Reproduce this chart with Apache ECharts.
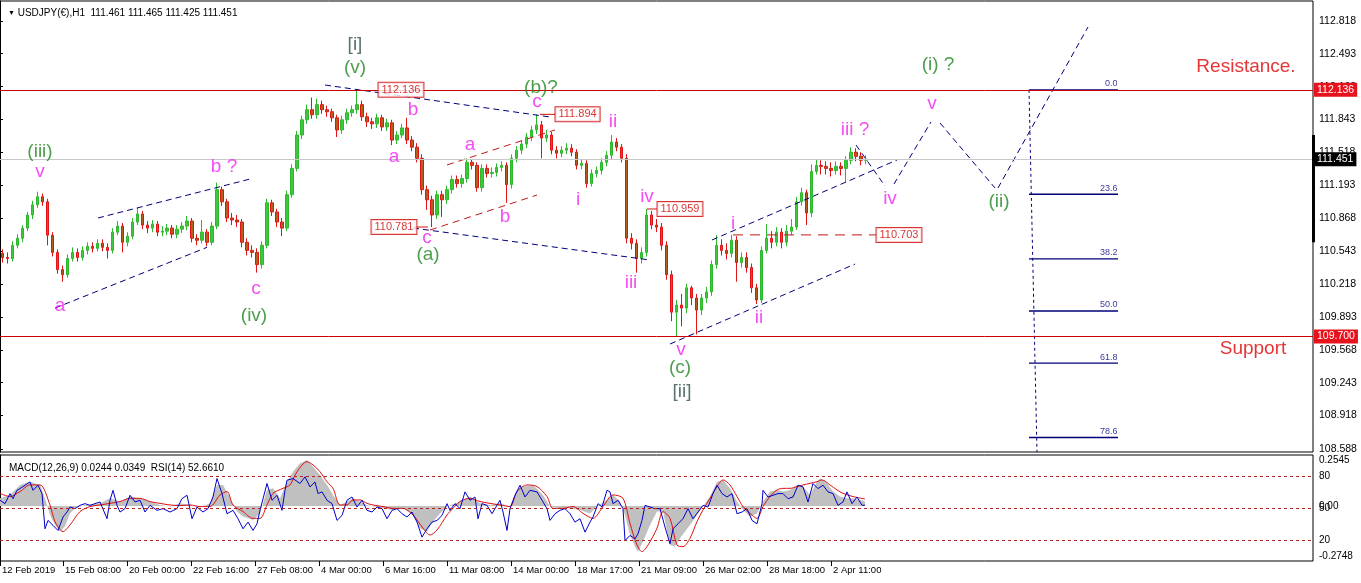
<!DOCTYPE html>
<html><head><meta charset="utf-8">
<script src="https://cdn.jsdelivr.net/npm/echarts@6/dist/echarts.min.js"></script>
<style>html,body{margin:0;padding:0;background:#fff;}#c{width:1361px;height:583px;}</style>
</head><body><div id="c"></div>
<script>
// ---------- DATA ----------
// each drawn candle aggregates 5 hourly bars; open = previous close
const firstOpen = 110.52;
const closes = [110.48,110.47,110.60,110.67,110.77,110.90,111.00,111.08,111.03,110.70,
 110.53,110.36,110.31,110.47,110.53,110.48,110.55,110.59,110.57,110.62,
 110.58,110.55,110.73,110.79,110.63,110.69,110.83,110.91,110.80,110.77,
 110.81,110.73,110.74,110.77,110.71,110.76,110.79,110.84,110.67,110.65,
 110.73,110.63,110.79,111.15,111.03,110.87,110.85,110.83,110.63,110.55,
 110.53,110.41,110.60,111.02,110.93,110.83,110.77,111.10,111.36,111.69,
 111.84,111.94,111.89,111.99,111.94,111.92,111.86,111.74,111.84,111.91,
 111.94,111.99,111.87,111.82,111.80,111.86,111.77,111.81,111.64,111.69,
 111.76,111.64,111.57,111.46,111.15,111.05,110.90,111.10,111.05,111.15,
 111.25,111.21,111.26,111.42,111.39,111.17,111.36,111.31,111.32,111.37,
 111.39,111.20,111.46,111.54,111.60,111.67,111.74,111.79,111.66,111.69,
 111.54,111.51,111.54,111.56,111.52,111.39,111.41,111.21,111.31,111.34,
 111.42,111.49,111.62,111.57,111.46,110.67,110.62,110.47,110.53,110.90,
 110.80,110.78,110.60,110.31,109.94,110.01,109.98,110.18,110.08,109.96,
 110.08,110.14,110.41,110.60,110.55,110.52,110.65,110.43,110.48,110.38,
 110.18,110.06,110.55,110.67,110.63,110.73,110.63,110.74,110.78,111.03,
 111.12,110.92,111.33,111.39,111.38,111.36,111.34,111.38,111.36,111.44,
 111.52,111.48,111.44,111.451];
const highs = [110.56,110.53,110.64,110.71,110.80,110.93,111.04,111.13,111.11,111.06,
 110.73,110.56,110.40,110.51,110.58,110.57,110.59,110.63,110.63,110.66,
 110.66,110.62,110.77,110.84,110.82,110.73,110.87,110.97,110.94,110.84,
 110.85,110.84,110.79,110.81,110.80,110.80,110.83,110.89,110.87,110.71,
 110.85,110.76,110.83,111.22,111.18,111.06,110.92,110.90,110.86,110.67,
 110.60,110.57,110.64,111.06,111.05,110.96,110.87,111.14,111.40,111.73,
 111.88,111.99,112.06,112.05,112.03,111.98,111.95,111.89,111.88,111.95,
 111.98,112.136,112.03,111.91,111.86,111.90,111.89,111.85,111.84,111.73,
 111.80,111.86,111.68,111.61,111.50,111.19,111.09,111.14,111.14,111.19,
 111.29,111.29,111.30,111.46,111.45,111.42,111.40,111.40,111.37,111.41,
 111.43,111.42,111.50,111.58,111.64,111.71,111.78,111.894,111.83,111.74,
 111.72,111.58,111.58,111.61,111.60,111.55,111.45,111.44,111.35,111.38,
 111.46,111.53,111.69,111.66,111.60,111.50,110.72,110.66,110.58,110.959,
 110.94,110.86,110.82,110.64,110.35,110.06,110.12,110.22,110.20,110.12,
 110.12,110.19,110.45,110.70,110.66,110.62,110.703,110.69,110.53,110.53,
 110.42,110.22,110.59,110.81,110.74,110.78,110.77,110.80,110.86,111.08,
 111.17,111.15,111.40,111.45,111.44,111.43,111.42,111.43,111.42,111.48,
 111.57,111.56,111.52,111.49];
const lows = [110.43,110.42,110.44,110.57,110.63,110.74,110.86,110.97,110.99,110.60,
 110.49,110.32,110.24,110.28,110.44,110.44,110.45,110.51,110.53,110.54,
 110.54,110.47,110.52,110.70,110.53,110.59,110.66,110.80,110.76,110.72,
 110.73,110.69,110.69,110.70,110.67,110.67,110.72,110.75,110.63,110.60,
 110.62,110.59,110.60,110.76,110.99,110.83,110.80,110.78,110.58,110.50,
 110.48,110.33,110.37,110.57,110.89,110.78,110.69,110.74,111.07,111.33,
 111.65,111.80,111.85,111.85,111.90,111.87,111.82,111.67,111.70,111.80,
 111.87,111.90,111.83,111.77,111.75,111.76,111.73,111.73,111.59,111.60,
 111.66,111.60,111.53,111.42,111.10,110.95,110.781,110.86,110.88,111.01,
 111.11,111.17,111.17,111.22,111.35,111.13,111.13,111.27,111.27,111.28,
 111.33,111.02,111.16,111.42,111.50,111.56,111.63,111.70,111.46,111.62,
 111.50,111.46,111.47,111.50,111.48,111.35,111.35,111.17,111.18,111.27,
 111.30,111.38,111.45,111.53,111.42,110.62,110.56,110.33,110.42,110.49,
 110.76,110.73,110.55,110.26,109.85,109.70,109.80,109.93,110.01,109.72,
 109.91,110.03,110.10,110.37,110.50,110.46,110.48,110.24,110.38,110.33,
 110.13,110.02,110.03,110.52,110.57,110.59,110.57,110.59,110.70,110.75,
 110.99,110.80,110.88,111.30,111.30,111.30,111.28,111.30,111.29,111.22,
 111.40,111.43,111.39,111.40];

// indicator sub-window: [hour index, value]
const rsi = [[0,57.3],[5,54.1],[10,63.6],[13,58.8],[17,66.7],[20,68.3],[25,71.5],[30,74.6],[33,66.7],[38,71.5],[42,63.6],[45,30.4],[48,38.3],[53,33.6],[58,28.8],[63,41.5],[67,46.2],[70,50.9],[75,49.4],[80,52.5],[85,54.1],[90,52.5],[95,54.1],[100,55.7],[107,39.9],[110,57.3],[113,66.7],[117,52.5],[120,46.2],[125,49.4],[130,62.0],[135,55.7],[140,57.3],[145,46.2],[150,52.5],[157,47.8],[163,49.4],[170,46.2],[177,49.4],[182,58.8],[187,62.0],[192,39.9],[197,50.9],[203,46.2],[208,49.4],[213,60.4],[217,77.8],[222,63.6],[227,44.6],[233,47.8],[238,39.9],[243,30.4],[248,36.7],[253,28.8],[257,35.1],[260,47.8],[267,73.1],[272,57.3],[277,62.0],[282,47.8],[285,66.7],[287,76.2],[293,77.8],[300,73.1],[305,79.4],[310,69.9],[315,74.6],[318,63.6],[322,65.2],[327,57.3],[332,54.1],[337,38.3],[342,43.0],[347,57.3],[352,60.4],[357,50.9],[362,57.3],[367,47.8],[372,46.2],[377,50.9],[382,49.4],[387,39.9],[392,47.8],[397,49.4],[402,44.6],[407,41.5],[412,46.2],[417,36.7],[422,22.5],[427,30.4],[432,36.7],[437,38.3],[442,43.0],[447,54.1],[450,47.8],[455,54.1],[460,49.4],[465,65.2],[470,57.3],[475,60.4],[478,39.9],[482,54.1],[487,52.5],[492,44.6],[495,49.4],[500,57.3],[503,46.2],[507,28.8],[510,49.4],[515,62.0],[520,71.5],[525,60.4],[530,66.7],[537,65.2],[542,57.3],[547,49.4],[550,38.3],[555,44.6],[560,47.8],[565,49.4],[570,44.6],[575,36.7],[580,39.9],[585,27.2],[590,36.7],[593,41.5],[598,54.1],[602,50.9],[607,66.7],[610,65.2],[613,54.1],[618,57.3],[623,49.4],[625,19.3],[630,24.1],[635,20.9],[638,25.7],[642,38.3],[645,52.5],[650,50.9],[655,49.4],[660,49.4],[665,32.0],[668,22.5],[670,16.2],[673,30.4],[678,35.1],[683,39.9],[688,49.4],[693,39.9],[698,46.2],[703,52.5],[708,50.9],[713,63.6],[717,71.5],[722,63.6],[727,60.4],[732,63.6],[737,44.6],[742,46.2],[747,49.4],[752,38.3],[757,35.1],[762,54.1],[763,66.7],[768,60.4],[773,62.0],[778,63.6],[783,63.6],[788,58.8],[793,60.4],[798,71.5],[803,69.9],[808,55.7],[813,73.1],[818,68.3],[823,71.5],[828,65.2],[833,63.6],[838,52.5],[843,55.7],[847,65.2],[852,54.1],[857,60.4],[862,52.5],[865,52.7]];
const macdHist = [[0,0.038],[10,0.055],[20,0.105],[30,0.121],[40,0.105],[45,0.038],[50,-0.045],[55,-0.095],[60,-0.128],[65,-0.103],[70,-0.037],[75,-0.012],[83,0.002],[100,0.013],[110,0.038],[120,0.022],[130,0.047],[140,0.038],[150,0.022],[160,0.005],[170,-0.003],[180,0.013],[190,0.005],[200,-0.008],[210,0.013],[217,0.105],[223,0.105],[230,0.038],[237,-0.028],[243,-0.053],[253,-0.070],[260,-0.037],[267,0.080],[273,0.088],[280,0.038],[287,0.121],[293,0.171],[300,0.213],[307,0.230],[313,0.196],[320,0.155],[327,0.105],[333,0.055],[340,0.005],[347,0.022],[353,0.038],[360,0.022],[367,0.005],[373,-0.003],[383,-0.012],[393,-0.020],[403,-0.012],[413,-0.045],[420,-0.111],[427,-0.128],[433,-0.078],[440,-0.037],[447,-0.003],[460,0.022],[470,0.047],[480,0.013],[490,0.005],[500,0.013],[510,-0.003],[517,0.080],[523,0.097],[533,0.105],[543,0.055],[550,-0.003],[560,-0.012],[570,-0.012],[580,-0.020],[590,-0.037],[597,-0.003],[607,0.030],[613,0.055],[620,0.022],[625,-0.045],[630,-0.145],[635,-0.203],[638,-0.228],[643,-0.178],[650,-0.095],[657,-0.028],[663,-0.028],[670,-0.195],[675,-0.203],[680,-0.161],[685,-0.128],[690,-0.095],[697,-0.045],[703,-0.003],[710,0.047],[717,0.121],[723,0.130],[730,0.088],[737,0.022],[743,-0.020],[750,-0.053],[757,-0.037],[763,0.022],[770,0.072],[777,0.080],[783,0.072],[790,0.080],[797,0.105],[803,0.097],[810,0.055],[817,0.121],[820,0.138],[827,0.113],[833,0.072],[840,0.047],[847,0.038],[853,0.038],[865,0.024]];
const macdSignal = [[0,0.063],[10,0.047],[20,0.072],[30,0.105],[40,0.105],[50,0.005],[55,-0.078],[63,-0.128],[70,-0.095],[80,-0.028],[90,-0.003],[100,0.005],[110,0.013],[120,0.022],[130,0.038],[140,0.038],[150,0.022],[160,0.013],[170,0.005],[180,0.002],[190,0.005],[200,-0.003],[210,-0.003],[220,0.055],[227,0.072],[233,0.005],[243,-0.028],[253,-0.062],[260,-0.062],[267,0.005],[273,0.063],[283,0.088],[290,0.105],[297,0.171],[307,0.221],[313,0.205],[320,0.171],[327,0.121],[333,0.088],[340,0.005],[347,0.005],[353,0.030],[360,0.030],[367,0.013],[373,0.005],[383,-0.003],[393,-0.012],[403,-0.012],[413,-0.045],[423,-0.111],[430,-0.145],[437,-0.120],[447,-0.045],[450,-0.028],[460,0.022],[470,0.038],[480,0.022],[490,0.013],[500,0.005],[510,-0.003],[517,0.072],[527,0.105],[537,0.097],[547,0.047],[553,-0.012],[563,-0.012],[573,-0.003],[583,-0.037],[593,-0.062],[603,-0.003],[613,0.055],[623,0.038],[630,-0.087],[637,-0.195],[642,-0.228],[648,-0.195],[657,-0.111],[663,-0.028],[670,-0.062],[677,-0.195],[683,-0.203],[690,-0.161],[697,-0.078],[703,-0.020],[710,0.038],[717,0.097],[723,0.130],[730,0.105],[737,0.047],[743,-0.003],[750,-0.037],[757,-0.062],[763,-0.003],[770,0.047],[777,0.080],[783,0.088],[790,0.088],[797,0.097],[803,0.105],[810,0.113],[817,0.121],[822,0.130],[830,0.105],[837,0.080],[843,0.063],[853,0.047],[865,0.035]];

// axis ticks
const priceTicks = [108.588,108.918,109.243,109.568,109.893,110.218,110.543,110.868,111.193,111.518,111.843,112.168,112.493,112.818];
const timeTickHours = [0,63,127,191,255,319,383,447,511,575,639,703,767,831];
const timeTickLabels = ['12 Feb 2019','15 Feb 08:00','20 Feb 00:00','22 Feb 16:00','27 Feb 08:00','4 Mar 00:00','6 Mar 16:00','11 Mar 08:00','14 Mar 00:00','18 Mar 17:00','21 Mar 09:00','26 Mar 02:00','28 Mar 18:00','2 Apr 11:00'];

// levels
const resistance = 112.136, support = 109.700, bid = 111.451;
const fibHigh = 112.136, fibLow = 107.766;
const fibRatios = [0.0, 23.6, 38.2, 50.0, 61.8, 78.6];

// annotations: [text, hour, price, colour key]
const waveLabels = [
 ['(iii)',40,111.522,'g'],['v',40,111.324,'m'],['a',60,110.000,'m'],['b ?',224,111.374,'m'],['c',256,110.168,'m'],['(iv)',254,109.902,'g'],
 ['[i]',355,112.579,'s'],['(v)',355,112.352,'g'],['b',413,111.937,'m'],['a',394,111.473,'m'],['c',427,110.672,'m'],['(a)',428,110.504,'g'],
 ['(b)?',541,112.154,'g'],['c',537,112.016,'m'],['a',470,111.591,'m'],['b',505,110.880,'m'],['i',578,111.048,'m'],['ii',613,111.819,'m'],
 ['iv',647,111.077,'m'],['iii',631,110.228,'m'],['v',681,109.566,'m'],['(c)',680,109.388,'g'],['[ii]',682,109.151,'s'],
 ['i',733,110.811,'m'],['ii',759,109.882,'m'],['iii ?',855,111.740,'m'],['iv',890,111.058,'m'],['v',932,111.996,'m'],
 ['(i) ?',938,112.382,'g'],['(ii)',999,111.028,'g'],
 ['Resistance.',1246,112.362,'r'],['Support',1253,109.576,'r']
];
const priceTags = [['112.136',378,112.136],['111.894',555,111.894],['110.781',371,110.781],['110.959',657,110.959],['110.703',876,110.703]];
// trend lines [h1,p1,h2,p2]
const navyLines = [[55,109.98,207,110.58],[98,110.87,250,111.255],[325,112.184,550,111.868],[413,110.771,650,110.455],
 [712,110.653,897,111.443],[670,109.625,855,110.415],
 [856,111.591,885,111.186],[894,111.206,931,111.819],[940,111.809,995,111.167],[998,111.167,1088,112.757]];
const redDashLines = [[447,111.394,555,111.740],[430,110.751,537,111.097],[733,110.703,876,110.703]];
const redConnectors = [[540,111.894,555,111.894],[414,110.781,428,110.781],[647,110.959,657,110.959]];
const fibSpan = [1029,1118];
const fibVertical = [1029,112.136,1037,108.56];

// ---------- BUILD ----------
const SLOTS = 263;
const categories = Array.from({length:SLOTS},(_,i)=>String(i*5));
const ohlc = closes.map((c,i)=>[i===0?firstOpen:closes[i-1], c, lows[i], highs[i]]);
const FONT = "'Liberation Sans Narrow','Liberation Sans',Arial,sans-serif";
const BIG = "'Liberation Sans',Arial,sans-serif";
const COL = {m:'#f020f0', g:'#1f861f', s:'#2f4f4f', r:'#e00000'};

function seg(s,color,dash,width,extra){
  return Object.assign({type:'line',xAxisIndex:1,yAxisIndex:0,data:[[s[0],s[1]],[s[2],s[3]]],symbol:'none',silent:true,
    lineStyle:{color:color,width:width||1,type:dash},z:4,animation:false}, extra||{});
}
const series = [];
series.push({type:'candlestick',xAxisIndex:0,yAxisIndex:0,data:ohlc,barWidth:3,z:3,
  itemStyle:{color:'#3cc83c',color0:'#b0601c',borderColor:'#2eb82e',borderColor0:'#e01414',borderWidth:1},
  markLine:{symbol:'none',silent:true,animation:false,precision:3,data:[
    {yAxis:bid,lineStyle:{color:'#c8c8c8',width:1,type:'solid'},label:{show:true,position:'end',formatter:bid.toFixed(3),color:'#fff',backgroundColor:'#000',padding:[2,3,1,3],distance:1,fontSize:10.5,fontFamily:FONT}},
    {yAxis:resistance,lineStyle:{color:'#cc0000',width:1,type:'solid'},label:{show:true,position:'end',formatter:resistance.toFixed(3),color:'#fff',backgroundColor:'#e8121c',padding:[2,3,1,3],distance:1,fontSize:10.5,fontFamily:FONT}},
    {yAxis:support,lineStyle:{color:'#cc0000',width:1,type:'solid'},label:{show:true,position:'end',formatter:support.toFixed(3),color:'#fff',backgroundColor:'#e8121c',padding:[2,3,1,3],distance:1,fontSize:10.5,fontFamily:FONT}}
  ]}
});
navyLines.forEach(s=>series.push(seg(s,'#00007a',[6,4])));
redDashLines.forEach((s,i)=>series.push(seg(s,'#c01818',i===2?[10,7]:[7,5])));
redConnectors.forEach(s=>series.push(seg(s,'#d01010','solid')));
// fib
series.push(seg(fibVertical,'#00007a',[3,3]));
fibRatios.forEach(r=>{
  const p = fibHigh - r/100*(fibHigh-fibLow);
  series.push(seg([fibSpan[0],p,fibSpan[1],p],'#00007a','solid',1.3));
});
series.push({type:'scatter',xAxisIndex:1,yAxisIndex:0,symbolSize:1,silent:true,z:6,itemStyle:{color:'transparent'},
  data:fibRatios.map(r=>({value:[fibSpan[1],fibHigh - r/100*(fibHigh-fibLow)],name:r.toFixed(1)})),
  label:{show:true,position:[0,-1],align:'right',verticalAlign:'bottom',formatter:'{b}',color:'#00007a',fontSize:9,fontFamily:FONT}});
// axis marker bar
series.push(seg([1313.5,111.69,1313.5,110.63],'#000','solid',3,{clip:false,z:10}));
// wave labels
series.push({type:'scatter',xAxisIndex:1,yAxisIndex:0,symbolSize:1,silent:true,z:7,itemStyle:{color:'transparent'},
  data:waveLabels.map(w=>({value:[w[1],w[2]],name:w[0],label:{color:COL[w[3]]}})),
  label:{show:true,position:'inside',formatter:'{b}',fontSize:19,fontFamily:BIG}});
// price tags
series.push({type:'scatter',xAxisIndex:1,yAxisIndex:0,symbolSize:1,silent:true,z:8,itemStyle:{color:'transparent'},
  data:priceTags.map(t=>({value:[t[1],t[2]],name:t[0]})),
  label:{show:true,position:'right',distance:0,formatter:'{b}',color:'#d00000',backgroundColor:'#fff',borderColor:'#d00000',borderWidth:1,padding:[2,3,1,3],fontSize:11,fontFamily:FONT}});
// sub window
series.push({type:'line',xAxisIndex:2,yAxisIndex:2,data:macdHist,symbol:'none',silent:true,lineStyle:{width:0,color:'#c0c0c0'},areaStyle:{color:'#c0c0c0',opacity:1},z:2});
series.push({type:'line',xAxisIndex:2,yAxisIndex:2,data:macdSignal,symbol:'none',silent:true,smooth:0.3,lineStyle:{width:1,color:'#dd1111'},z:3});
series.push({type:'line',xAxisIndex:2,yAxisIndex:1,data:rsi,symbol:'none',silent:true,lineStyle:{width:1,color:'#0000cc'},z:4,
  markLine:{symbol:'none',silent:true,animation:false,label:{show:false},lineStyle:{color:'#b22222',type:[3,3],width:1},data:[{yAxis:80},{yAxis:50},{yAxis:20}]}});

const option = {
  animation:false,
  backgroundColor:'#fff',
  textStyle:{fontFamily:FONT},
  title:[
    {text:'{t|▼} USDJPY(€),H1  111.461 111.465 111.425 111.451',left:3,top:3,textStyle:{fontSize:10,fontWeight:'normal',color:'#000',fontFamily:FONT,rich:{t:{fontSize:7,color:'#000'}}}},
    {text:'MACD(12,26,9) 0.0244 0.0349  RSI(14) 52.6610',left:4,top:458,textStyle:{fontSize:10,fontWeight:'normal',color:'#000',fontFamily:FONT}}
  ],
  grid:[
    {left:0,top:1,width:1313,height:451,show:true,borderColor:'#000',borderWidth:1,outerBoundsMode:'none'},
    {left:0,top:455,width:1313,height:106,show:true,borderColor:'#000',borderWidth:1,outerBoundsMode:'none'}
  ],
  xAxis:[
    {type:'category',gridIndex:0,data:categories,boundaryGap:true,show:false},
    {type:'value',gridIndex:0,min:0,max:1313,show:false},
    {type:'value',gridIndex:1,min:0,max:1313,axisLine:{show:false},splitLine:{show:false},
      axisTick:{show:true,customValues:timeTickHours,length:5,lineStyle:{color:'#000'}},
      axisLabel:{customValues:timeTickHours,formatter:v=>timeTickLabels[timeTickHours.indexOf(v)]||'',align:'left',margin:4,padding:[0,0,0,2],fontSize:9.5,color:'#000',fontFamily:FONT}}
  ],
  yAxis:[
    {type:'value',gridIndex:0,position:'right',min:108.558,max:113.014,scale:true,
      axisLine:{show:true,lineStyle:{color:'#000'}},splitLine:{show:false},
      axisTick:{show:true,customValues:priceTicks,length:3,lineStyle:{color:'#000'}},
      axisLabel:{customValues:priceTicks,formatter:v=>v.toFixed(3),fontSize:10.5,color:'#000',margin:6,fontFamily:FONT}},
    {type:'value',gridIndex:1,position:'right',min:0,max:100,
      axisLine:{show:true,lineStyle:{color:'#000'}},splitLine:{show:false},
      axisTick:{show:true,customValues:[20,50,80],length:3,lineStyle:{color:'#000'}},
      axisLabel:{customValues:[20,50,80],fontSize:10,color:'#000',margin:6,fontFamily:FONT}},
    {type:'value',gridIndex:1,position:'right',min:-0.2748,max:0.2545,
      axisLine:{show:false},splitLine:{show:false},axisTick:{show:false},
      axisLabel:{customValues:[-0.2748,0,0.2545],formatter:v=>v===0?'0.00':v.toFixed(4),fontSize:10,color:'#000',margin:6,fontFamily:FONT,
        verticalAlignMaxLabel:'top',verticalAlignMinLabel:'bottom'}}
  ],
  series:series
};
const chart = echarts.init(document.getElementById('c'),null,{renderer:'canvas'});
chart.setOption(option);
</script></body></html>
